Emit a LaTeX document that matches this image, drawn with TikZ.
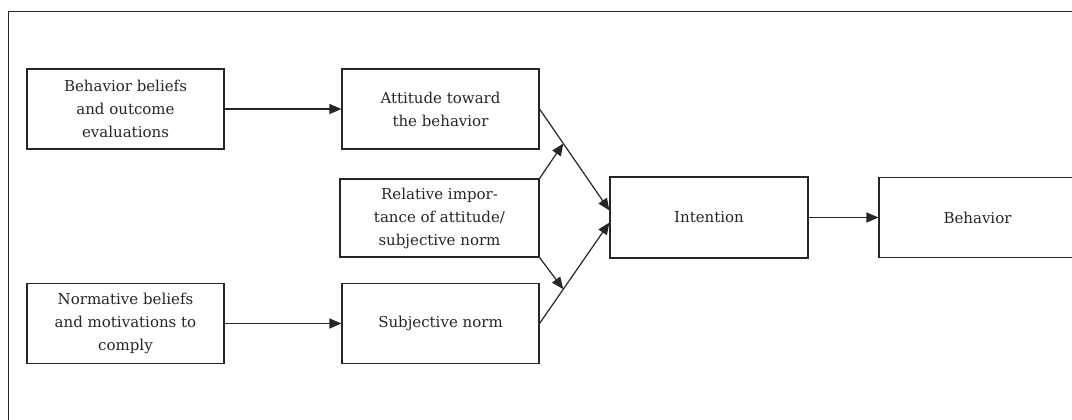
\documentclass[tikz,border=0pt]{standalone}
\usepackage{fontspec}
\setmainfont{DejaVu Serif}
\usetikzlibrary{arrows.meta}
\begin{document}
\begin{tikzpicture}[x=1pt,y=-1pt,
  box/.style={draw=black!85, line width=1.1pt, minimum width=197pt, minimum height=80pt,
    align=center, inner sep=0pt, font=\fontsize{15}{23}\selectfont, text=black!85},
  conn/.style={draw=black!85, line width=1.2pt, -{Triangle[length=12pt,width=10pt]}}]
\useasboundingbox (0,0) rectangle (1072,420);
\clip (0,0) rectangle (1072,420);
\draw[line width=1pt, black!85] (8,430) -- (8,12) -- (1080,12);
\node[box] (bb) at (125.5,109) {Behavior beliefs\\and outcome\\evaluations};
\node[box] (nb) at (125.5,323.5) {Normative beliefs\\and motivations to\\comply};
\node[box] (att) at (440.5,109) {Attitude toward\\the behavior};
\node[box, minimum width=199pt, minimum height=78pt] (rel) at (439.5,218) {Relative impor-\\tance of attitude/\\subjective norm};
\node[box] (subj) at (440.5,323.5) {Subjective norm};
\node[box, minimum width=198pt, minimum height=81pt] (int) at (709,217.5) {Intention};
\node[box] (beh) at (977.5,217.5) {Behavior};
\draw[conn] (bb.east) -- (att.west);
\draw[conn] (nb.east) -- (subj.west);
\draw[conn] (att.east) -- ([yshift=7pt]int.west) coordinate[pos=0.34] (m1);
\draw[conn] (subj.east) -- ([yshift=-5pt]int.west) coordinate[pos=0.34] (m2);
\draw[conn] (rel.north east) -- (m1);
\draw[conn] (rel.south east) -- (m2);
\draw[conn] (int.east) -- (beh.west);
\end{tikzpicture}
\end{document}
